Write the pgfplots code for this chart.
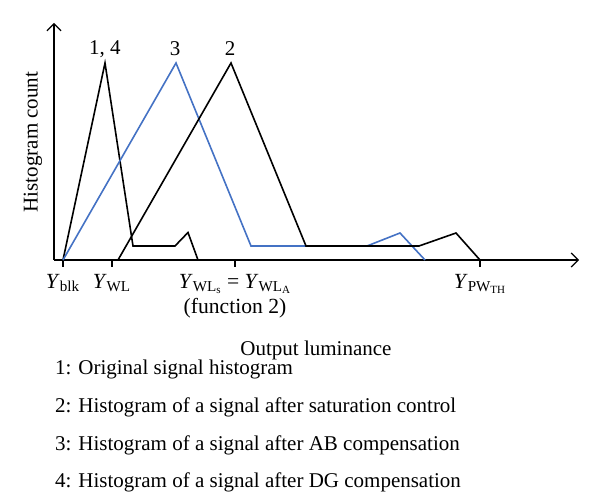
\documentclass[border=0pt]{standalone}
\usepackage{fontspec}
\setmainfont{Liberation Serif}
\usepackage{pgfplots}
\pgfplotsset{compat=1.18}
\usetikzlibrary{arrows.meta}
\definecolor{histblue}{RGB}{68,114,196}
% subscript inside a subscript, kept readable
\newcommand{\subsub}[1]{\raisebox{-0.35ex}{\fontsize{5.5}{6}\selectfont #1}}

\begin{document}
\begin{tikzpicture}[font=\fontsize{10.5}{12}\selectfont]
% page frame: 1 px of the reference = 0.5pt, origin at the axis corner
\path[use as bounding box] (-27pt,130pt) rectangle (273pt,-118pt);
\begin{axis}[
    at={(0,0)}, anchor=origin,
    x=0.5pt, y=0.5pt,
    xmin=0, xmax=525, ymin=0, ymax=237,
    axis lines=left,
    axis line style={line width=0.6pt, -{Straight Barb[length=3.5pt,width=7pt]}},
    xtick={9,58,181,426},
    xticklabels={
        \textit{Y}\textsubscript{blk},
        \textit{Y}\textsubscript{WL},
        {\textit{Y}\textsubscript{WL\subsub{s}} = \textit{Y}\textsubscript{WL\subsub{A}}\\(function 2)},
        \textit{Y}\textsubscript{PW\subsub{TH}}},
    xticklabel style={align=center, font=\fontsize{10.8}{12.5}\selectfont},
    ytick=\empty,
    tick align=outside,
    major tick length=3.5pt,
    tick style={black, line width=0.6pt},
    clip=false,
    every axis plot/.append style={line width=0.8pt, mark=none},
]
% 1 (and 4): original signal
\addplot[black] coordinates {(9,0) (51,197) (79,14) (121,14) (134,27.5) (144,0)};
% 3: after AB compensation
\addplot[histblue] coordinates {(9,0) (122,197) (197,14) (313,14) (346,27) (371,0)};
% 2: after saturation control
\addplot[black] coordinates {(64,0) (177,197) (252,14) (365,14) (402,27) (426,0)};

\node at (axis cs:51,211) {1, 4};
\node at (axis cs:121,211) {3};
\node at (axis cs:176,211) {2};
\node[rotate=90] at (axis cs:-21,118) {Histogram count};
\node at (axis cs:262,-90) {Output luminance};
\node[anchor=west] at (axis cs:-6,-109) {1: Original signal histogram};
\node[anchor=west] at (axis cs:-6,-147) {2: Histogram of a signal after saturation control};
\node[anchor=west] at (axis cs:-6,-185) {3: Histogram of a signal after AB compensation};
\node[anchor=west] at (axis cs:-6,-222) {4: Histogram of a signal after DG compensation};
\end{axis}
\end{tikzpicture}
\end{document}
